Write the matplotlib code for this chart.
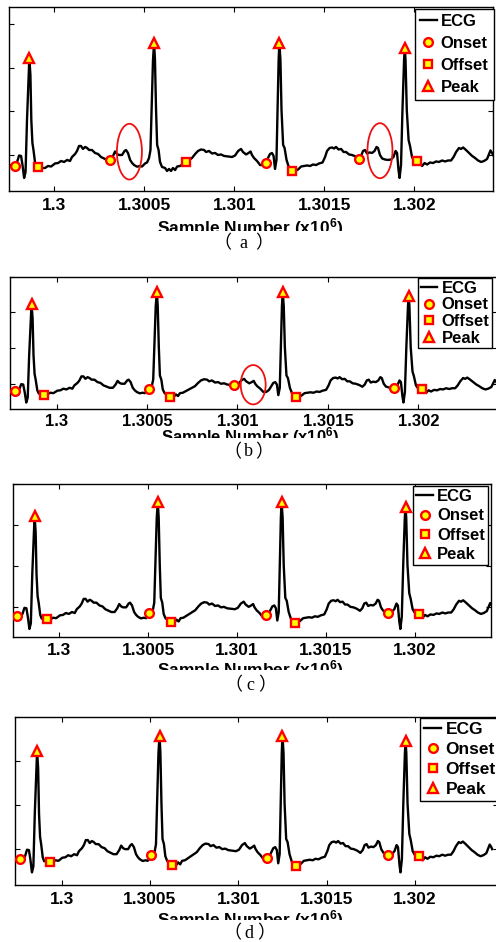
import matplotlib
matplotlib.use('Agg')
import matplotlib.pyplot as plt
from matplotlib.patches import Ellipse
from matplotlib.transforms import Bbox, TransformedBbox
import numpy as np

plt.rcParams['font.family'] = ['Liberation Sans', 'DejaVu Sans']
plt.rcParams['font.weight'] = 'bold'
plt.rcParams['mathtext.fontset'] = 'custom'
plt.rcParams['mathtext.rm'] = 'Liberation Sans:bold'
plt.rcParams['mathtext.default'] = 'rm'

W, H, DPI = 496, 942, 100

# ---------------- data ----------------
ecg_sample = [1299748, 1299765, 1299782, 1299793, 1299804, 1299815, 1299823, 1299832, 1299840, 1299848,
              1299857, 1299861, 1299867, 1299872, 1299878, 1299884, 1299893, 1299901, 1299911, 1299926,
              1299948, 1299965, 1299982, 1300004, 1300021, 1300037, 1300054, 1300071, 1300087, 1300098,
              1300115, 1300126, 1300137, 1300148, 1300159, 1300171, 1300182, 1300193, 1300209, 1300226,
              1300243, 1300259, 1300276, 1300293, 1300311, 1300326, 1300337, 1300348, 1300359, 1300376,
              1300390, 1300398, 1300409, 1300421, 1300432, 1300443, 1300459, 1300476, 1300487, 1300504,
              1300515, 1300526, 1300534, 1300540, 1300548, 1300554, 1300559, 1300565, 1300571, 1300579,
              1300587, 1300598, 1300615, 1300626, 1300637, 1300648, 1300659, 1300671, 1300682, 1300698,
              1300715, 1300730, 1300748, 1300765, 1300782, 1300798, 1300815, 1300832, 1300843, 1300859,
              1300876, 1300893, 1300909, 1300926, 1300943, 1300965, 1300987, 1301004, 1301021, 1301037,
              1301048, 1301065, 1301079, 1301090, 1301098, 1301109, 1301126, 1301143, 1301159, 1301174,
              1301187, 1301198, 1301209, 1301218, 1301226, 1301234, 1301240, 1301246, 1301250, 1301256,
              1301262, 1301271, 1301279, 1301290, 1301304, 1301323, 1301337, 1301354, 1301371, 1301387,
              1301404, 1301421, 1301437, 1301454, 1301471, 1301490, 1301504, 1301515, 1301529, 1301543,
              1301554, 1301565, 1301579, 1301593, 1301607, 1301621, 1301637, 1301654, 1301673, 1301691,
              1301704, 1301715, 1301726, 1301737, 1301751, 1301765, 1301779, 1301790, 1301798, 1301809,
              1301821, 1301837, 1301854, 1301871, 1301884, 1301896, 1301904, 1301912, 1301918, 1301926,
              1301934, 1301943, 1301947, 1301951, 1301958, 1301968, 1301976, 1301987, 1301998, 1302012,
              1302029, 1302043, 1302057, 1302071, 1302087, 1302104, 1302121, 1302137, 1302154, 1302171,
              1302187, 1302204, 1302218, 1302232, 1302248, 1302259, 1302271, 1302287, 1302304, 1302321,
              1302337, 1302354, 1302371, 1302387, 1302404, 1302415, 1302423, 1302432, 1302437]
ecg_mv = [-0.115, -0.120, -0.123, -0.080, -0.006, -0.011, -0.115, -0.263, -0.195, 0.401,
          0.916, 1.111, 0.916, 0.401, 0.137, 0.057, -0.092, -0.137, -0.134, -0.149,
          -0.149, -0.126, -0.132, -0.097, -0.092, -0.069, -0.080, -0.057, -0.069, -0.023,
          0.011, 0.046, 0.103, 0.103, 0.069, 0.092, 0.080, 0.057, 0.057, 0.023,
          0.011, -0.023, -0.040, -0.057, -0.057, -0.011, 0.040, 0.011, 0.000, 0.000,
          0.046, 0.057, 0.023, -0.057, -0.092, -0.115, -0.134, -0.126, -0.132, -0.097,
          -0.086, -0.034, 0.057, 0.515, 1.088, 1.286, 1.088, 0.515, 0.115, 0.057,
          -0.080, -0.137, -0.149, -0.183, -0.160, -0.183, -0.149, -0.172, -0.132, -0.126,
          -0.103, -0.084, -0.057, -0.034, 0.011, 0.046, 0.063, 0.057, 0.034, 0.046,
          0.017, 0.023, 0.000, 0.006, -0.011, -0.017, -0.023, -0.006, 0.046, 0.069,
          0.034, 0.006, 0.023, 0.040, 0.000, -0.034, -0.069, -0.115, -0.115, -0.088,
          -0.034, 0.011, 0.023, -0.011, -0.160, -0.057, 0.515, 1.088, 1.286, 1.088,
          0.515, 0.115, 0.080, -0.057, -0.149, -0.180, -0.183, -0.166, -0.132, -0.126,
          -0.120, -0.126, -0.109, -0.115, -0.097, -0.086, -0.023, 0.046, 0.080, 0.086,
          0.074, 0.092, 0.063, 0.069, 0.034, 0.034, 0.006, 0.000, -0.017, -0.042,
          -0.011, 0.046, 0.057, 0.017, 0.029, 0.023, 0.046, 0.092, 0.080, 0.000,
          -0.040, -0.052, -0.057, -0.052, -0.023, 0.046, 0.023, -0.172, -0.263, -0.115,
          0.515, 1.088, 1.225, 1.088, 0.515, 0.172, 0.103, -0.023, -0.063, -0.066,
          -0.092, -0.126, -0.092, -0.109, -0.086, -0.092, -0.074, -0.080, -0.063, -0.074,
          -0.063, -0.063, -0.023, 0.034, 0.080, 0.069, 0.086, 0.057, 0.023, -0.011,
          -0.034, -0.063, -0.080, -0.069, -0.046, 0.011, 0.052, 0.023, 0.000]

peak_sample = [1299861, 1300554, 1301250, 1301947]
peak_mv = [1.111, 1.286, 1.286, 1.225]

onset_a_sample = [1299782, 1300311, 1301174, 1301691]
onset_a_mv = [-0.123, -0.057, -0.088, -0.042]
offset_a_sample = [1299911, 1300730, 1301323, 1302012]
offset_a_mv = [-0.134, -0.084, -0.181, -0.066]

onset_b_sample = [1299769, 1300511, 1300982, 1301864]
onset_b_mv = [-0.106, -0.069, -0.019, -0.061]
offset_b_sample = [1299930, 1300627, 1301324, 1302022]
offset_b_mv = [-0.161, -0.185, -0.185, -0.079]

onset_cd_sample = [1299764, 1300505, 1301161, 1301847]
onset_cd_mv = [-0.110, -0.070, -0.097, -0.068]
offset_cd_sample = [1299933, 1300626, 1301324, 1302022]
offset_cd_mv = [-0.146, -0.177, -0.192, -0.080]

# highlighted regions (center sample, center mV, width in samples, height in mV)
ellipses_a = [(1300417, 0.038, 139, 0.638), (1301809, 0.049, 139, 0.630)]
ellipses_b = [(1301087, -0.014, 138, 0.551)]

x_ticks = [1.3, 1.3005, 1.301, 1.3015, 1.302]
x_tick_labels = ['1.3', '1.3005', '1.301', '1.3015', '1.302']
y_ticks = [0.0, 0.5, 1.0, 1.5]
legend_labels = ['ECG', 'Onset', 'Offset', 'Peak']
x_label = 'Sample Number (x10$^6$)'
caption_letters = ['a', 'b', 'c', 'd']

# ---------------- layout (pixel geometry per panel) ----------------
panels = [
    dict(rect=(9, 7.3, 493, 190.7), xlim=(1299748, 1302437), ylim=(-0.409, 1.691),
         onset=(onset_a_sample, onset_a_mv), offset=(offset_a_sample, offset_a_mv), ell=ellipses_a,
         leg=(415, 9.3), leg_fs=12, leg_ls=0.42, leg_bp=0.3, tick_fs=12.5, tick_pad=5.0,
         xl_base=233.5, xl_cut=231, xl_fs=12.5, cap=(243, 243, 17)),
    dict(rect=(10, 276.7, 497.3, 409), xlim=(1299742, 1302437), ylim=(-0.354, 1.468),
         onset=(onset_b_sample, onset_b_mv), offset=(offset_b_sample, offset_b_mv), ell=ellipses_b,
         leg=(418.3, 278.3), leg_fs=12, leg_ls=0.1, leg_bp=0.15, tick_fs=12, tick_pad=3.5,
         xl_base=442, xl_cut=438.3, xl_fs=12, cap=(248, 452, 12)),
    dict(rect=(12.7, 484, 490.7, 636.7), xlim=(1299738, 1302426), ylim=(-0.357, 1.419),
         onset=(onset_cd_sample, onset_cd_mv), offset=(offset_cd_sample, offset_cd_mv), ell=[],
         leg=(413.3, 486), leg_fs=12, leg_ls=0.25, leg_bp=0.19, tick_fs=12.5, tick_pad=4.2,
         xl_base=675.5, xl_cut=670, xl_fs=12.5, cap=(250, 685, 13)),
    dict(rect=(15, 716.7, 498, 885), xlim=(1299736, 1302470), ylim=(-0.406, 1.347),
         onset=(onset_cd_sample, onset_cd_mv), offset=(offset_cd_sample, offset_cd_mv), ell=[],
         leg=(420, 718.3), leg_fs=12.5, leg_ls=0.27, leg_bp=0.22, tick_fs=12.5, tick_pad=5.0,
         xl_base=925.5, xl_cut=920, xl_fs=12.5, cap=(249, 933, 13)),
]

fig = plt.figure(figsize=(W / DPI, H / DPI), dpi=DPI)
fig.patch.set_facecolor('white')

x = np.array(ecg_sample) / 1e6
mk = dict(linestyle='none', markerfacecolor='#ffff00', markeredgecolor='#ff0000', markeredgewidth=1.7)

for p, letter in zip(panels, caption_letters):
    L, T, R, B = p['rect']
    ax = fig.add_axes([L / W, 1 - B / H, (R - L) / W, (B - T) / H])
    h_ecg, = ax.plot(x, ecg_mv, color='black', lw=1.7, solid_joinstyle='round', zorder=2)
    h_on, = ax.plot(np.array(p['onset'][0]) / 1e6, p['onset'][1], marker='o', markersize=6.3, zorder=3, **mk)
    h_off, = ax.plot(np.array(p['offset'][0]) / 1e6, p['offset'][1], marker='s', markersize=6.0, zorder=3, **mk)
    h_pk, = ax.plot(np.array(peak_sample) / 1e6, peak_mv, marker='^', markersize=7.3, zorder=3, **mk)
    for cx, cy, ew, eh in p['ell']:
        ax.add_patch(Ellipse((cx / 1e6, cy), ew / 1e6, eh, fill=False, edgecolor='#ee1111', lw=1.3, zorder=4))
    ax.set_xlim(p['xlim'][0] / 1e6, p['xlim'][1] / 1e6)
    ax.set_ylim(*p['ylim'])
    ax.set_xticks(x_ticks)
    ax.set_xticklabels(x_tick_labels, fontsize=p['tick_fs'], fontweight='bold')
    ax.set_yticks(y_ticks)
    ax.set_yticklabels([])
    ax.tick_params(direction='in', top=True, right=True, length=3.5, width=0.8, pad=p['tick_pad'])
    for s in ax.spines.values():
        s.set_linewidth(1.0)
    leg = ax.legend([h_ecg, h_on, h_off, h_pk], legend_labels, loc='upper left',
                    bbox_to_anchor=(p['leg'][0] / W, 1 - p['leg'][1] / H), bbox_transform=fig.transFigure,
                    borderaxespad=0, fancybox=False, edgecolor='black', framealpha=1,
                    prop={'family': 'Liberation Sans', 'weight': 'bold', 'size': p['leg_fs']},
                    handlelength=1.0, handletextpad=0.25, labelspacing=p['leg_ls'], borderpad=p['leg_bp'])
    leg.get_frame().set_linewidth(1.0)
    leg.set_zorder(5)

    t = fig.text(250 / W, 1 - p['xl_base'] / H, x_label, ha='center', va='baseline',
                 fontsize=p['xl_fs'], fontweight='bold')
    t.set_clip_box(TransformedBbox(Bbox([[0, 1 - p['xl_cut'] / H], [1, 1]]), fig.transFigure))
    t.set_clip_on(True)

    cx, cy, off = p['cap']
    yy = 1 - cy / H
    fig.text(cx / W, yy, letter, ha='center', va='center', fontsize=13, fontweight='normal',
             family='Liberation Serif')
    fig.text((cx - off - 4) / W, yy, '（', ha='center', va='center', fontsize=13, fontweight='normal',
             family='Noto Sans CJK SC')
    fig.text((cx + off + 4) / W, yy, '）', ha='center', va='center', fontsize=13, fontweight='normal',
             family='Noto Sans CJK SC')

fig.savefig('out.png', dpi=DPI, facecolor='white')
